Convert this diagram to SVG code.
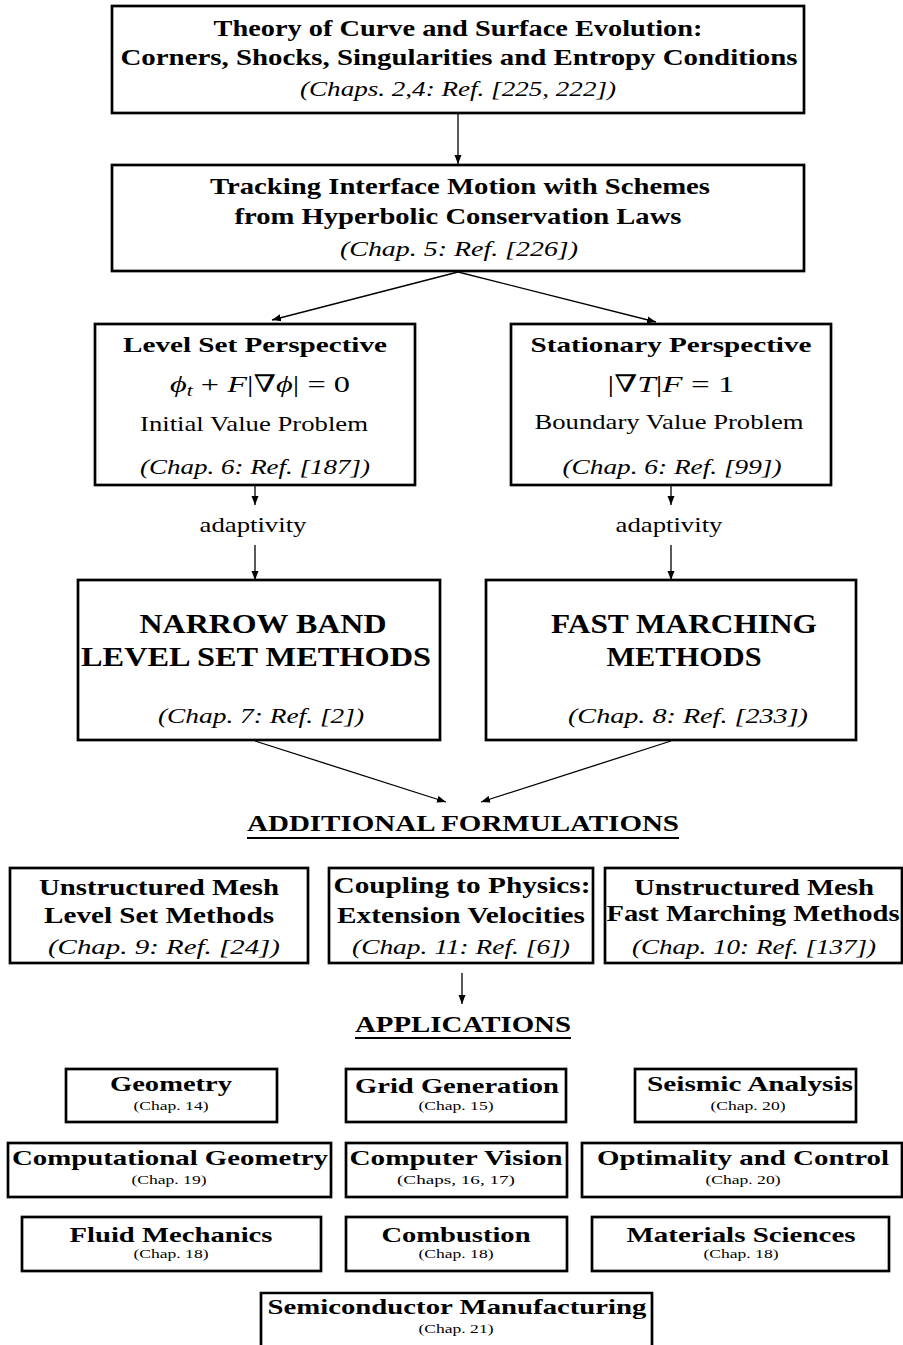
<svg xmlns="http://www.w3.org/2000/svg" width="903" height="1345" viewBox="0 0 903 1345">
<style>
.box{fill:#fff;stroke:#000;stroke-width:2.7}
.ln{stroke:#000;stroke-width:1.3;fill:none}
text{font-family:"Liberation Serif","DejaVu Serif",serif;fill:#000;text-anchor:middle}
.b{font-weight:bold}
.i{font-style:italic}
.f22{font-size:23px}
.f21{font-size:22px}
.f27{font-size:28px}
.f11{font-size:12px}
</style>
<defs>
<marker id="ah" markerWidth="10" markerHeight="8" refX="9" refY="4" orient="auto" markerUnits="userSpaceOnUse">
<path d="M0,0.5 L9,4 L0,7.5 Z" fill="#000"/>
</marker>
</defs>
<rect width="903" height="1345" fill="#fff"/>

<g id="connectors">
<line class="ln" x1="458" y1="114" x2="458" y2="164" marker-end="url(#ah)"/>
<line class="ln" x1="458" y1="272" x2="272" y2="320" marker-end="url(#ah)"/>
<line class="ln" x1="458" y1="272" x2="656" y2="322" marker-end="url(#ah)"/>
<line class="ln" x1="255" y1="486" x2="255" y2="505" marker-end="url(#ah)"/>
<line class="ln" x1="255" y1="545" x2="255" y2="580" marker-end="url(#ah)"/>
<line class="ln" x1="671" y1="486" x2="671" y2="505" marker-end="url(#ah)"/>
<line class="ln" x1="671" y1="545" x2="671" y2="580" marker-end="url(#ah)"/>
<line class="ln" x1="255" y1="741" x2="446" y2="802" marker-end="url(#ah)"/>
<line class="ln" x1="671" y1="741" x2="481" y2="802" marker-end="url(#ah)"/>
<line class="ln" x1="462" y1="973" x2="462" y2="1004" marker-end="url(#ah)"/>
<text x="253" y="532" class="f21" textLength="107" lengthAdjust="spacingAndGlyphs">adaptivity</text>
<text x="669" y="532" class="f21" textLength="107" lengthAdjust="spacingAndGlyphs">adaptivity</text>
</g>

<g id="theory">
<rect class="box" x="112" y="6" width="692" height="107"/>
<text x="458" y="36" class="b f22" textLength="489" lengthAdjust="spacingAndGlyphs">Theory of Curve and Surface Evolution:</text>
<text x="459" y="65" class="b f22" textLength="677" lengthAdjust="spacingAndGlyphs">Corners, Shocks, Singularities and Entropy Conditions</text>
<text x="458" y="96" class="i f21" textLength="316" lengthAdjust="spacingAndGlyphs">(Chaps. 2,4: Ref. [225, 222])</text>
</g>

<g id="tracking">
<rect class="box" x="112" y="165" width="692" height="106"/>
<text x="460" y="194" class="b f22" textLength="500" lengthAdjust="spacingAndGlyphs">Tracking Interface Motion with Schemes</text>
<text x="458" y="224" class="b f22" textLength="447" lengthAdjust="spacingAndGlyphs">from Hyperbolic Conservation Laws</text>
<text x="459" y="256" class="i f21" textLength="238" lengthAdjust="spacingAndGlyphs">(Chap. 5: Ref. [226])</text>
</g>

<g id="levelset">
<rect class="box" x="95" y="324" width="320" height="161"/>
<text x="255" y="352" class="b f21" textLength="264" lengthAdjust="spacingAndGlyphs">Level Set Perspective</text>
<text x="260" y="392" font-size="24" textLength="180" lengthAdjust="spacingAndGlyphs"><tspan class="i">ϕ</tspan><tspan font-size="16" class="i" dy="4">t</tspan><tspan dy="-4"> + </tspan><tspan class="i">F</tspan><tspan>|∇</tspan><tspan class="i">ϕ</tspan><tspan>| = 0</tspan></text>
<text x="254" y="431" class="f21" textLength="228" lengthAdjust="spacingAndGlyphs">Initial Value Problem</text>
<text x="255" y="474" class="i f21" textLength="230" lengthAdjust="spacingAndGlyphs">(Chap. 6: Ref. [187])</text>
</g>

<g id="stationary">
<rect class="box" x="511" y="324" width="320" height="161"/>
<text x="671" y="352" class="b f21" textLength="281" lengthAdjust="spacingAndGlyphs">Stationary Perspective</text>
<text x="671" y="392" font-size="24" textLength="127" lengthAdjust="spacingAndGlyphs"><tspan>|∇</tspan><tspan class="i">T</tspan><tspan>|</tspan><tspan class="i">F</tspan><tspan> = 1</tspan></text>
<text x="669" y="429" class="f21" textLength="269" lengthAdjust="spacingAndGlyphs">Boundary Value Problem</text>
<text x="672" y="474" class="i f21" textLength="219" lengthAdjust="spacingAndGlyphs">(Chap. 6: Ref. [99])</text>
</g>

<g id="narrowband">
<rect class="box" x="78" y="580" width="362" height="160"/>
<text x="263" y="633" class="b f27" textLength="247" lengthAdjust="spacingAndGlyphs">NARROW BAND</text>
<text x="256" y="666" class="b f27" textLength="350" lengthAdjust="spacingAndGlyphs">LEVEL SET METHODS</text>
<text x="261" y="723" class="i f21" textLength="206" lengthAdjust="spacingAndGlyphs">(Chap. 7: Ref. [2])</text>
</g>

<g id="fastmarching">
<rect class="box" x="486" y="580" width="370" height="160"/>
<text x="684" y="633" class="b f27" textLength="266" lengthAdjust="spacingAndGlyphs">FAST MARCHING</text>
<text x="684" y="666" class="b f27" textLength="155" lengthAdjust="spacingAndGlyphs">METHODS</text>
<text x="688" y="723" class="i f21" textLength="240" lengthAdjust="spacingAndGlyphs">(Chap. 8: Ref. [233])</text>
</g>

<g id="additional">
<text x="463" y="831" class="b f22" textLength="432" lengthAdjust="spacingAndGlyphs">ADDITIONAL FORMULATIONS</text>
<line x1="247" y1="838" x2="679" y2="838" stroke="#000" stroke-width="2"/>
</g>

<g id="um-ls">
<rect class="box" x="10" y="868" width="298" height="95"/>
<text x="159" y="895" class="b f22" textLength="240" lengthAdjust="spacingAndGlyphs">Unstructured Mesh</text>
<text x="159" y="923" class="b f22" textLength="230" lengthAdjust="spacingAndGlyphs">Level Set Methods</text>
<text x="164" y="954" class="i f21" textLength="232" lengthAdjust="spacingAndGlyphs">(Chap. 9: Ref. [24])</text>
</g>

<g id="coupling">
<rect class="box" x="329" y="868" width="264" height="95"/>
<text x="462" y="893" class="b f22" textLength="257" lengthAdjust="spacingAndGlyphs">Coupling to Physics:</text>
<text x="461" y="923" class="b f22" textLength="248" lengthAdjust="spacingAndGlyphs">Extension Velocities</text>
<text x="461" y="954" class="i f21" textLength="218" lengthAdjust="spacingAndGlyphs">(Chap. 11: Ref. [6])</text>
</g>

<g id="um-fm">
<rect class="box" x="605" y="868" width="297" height="95"/>
<text x="754" y="895" class="b f22" textLength="240" lengthAdjust="spacingAndGlyphs">Unstructured Mesh</text>
<text x="753" y="921" class="b f22" textLength="293" lengthAdjust="spacingAndGlyphs">Fast Marching Methods</text>
<text x="754" y="954" class="i f21" textLength="244" lengthAdjust="spacingAndGlyphs">(Chap. 10: Ref. [137])</text>
</g>

<g id="applications">
<text x="463" y="1032" class="b f22" textLength="216" lengthAdjust="spacingAndGlyphs">APPLICATIONS</text>
<line x1="355" y1="1038" x2="571" y2="1038" stroke="#000" stroke-width="2"/>
</g>

<g id="geometry">
<rect class="box" x="66" y="1069" width="211" height="53"/>
<text x="171" y="1091" class="b f21" textLength="122" lengthAdjust="spacingAndGlyphs">Geometry</text>
<text x="171" y="1110" class="f11" textLength="75" lengthAdjust="spacingAndGlyphs">(Chap. 14)</text>
</g>
<g id="grid">
<rect class="box" x="346" y="1069" width="220" height="53"/>
<text x="457" y="1093" class="b f21" textLength="204" lengthAdjust="spacingAndGlyphs">Grid Generation</text>
<text x="456" y="1110" class="f11" textLength="75" lengthAdjust="spacingAndGlyphs">(Chap. 15)</text>
</g>
<g id="seismic">
<rect class="box" x="635" y="1069" width="221" height="53"/>
<text x="750" y="1091" class="b f21" textLength="206" lengthAdjust="spacingAndGlyphs">Seismic Analysis</text>
<text x="748" y="1110" class="f11" textLength="75" lengthAdjust="spacingAndGlyphs">(Chap. 20)</text>
</g>

<g id="compgeom">
<rect class="box" x="8" y="1143" width="323" height="54"/>
<text x="170" y="1165" class="b f21" textLength="316" lengthAdjust="spacingAndGlyphs">Computational Geometry</text>
<text x="169" y="1184" class="f11" textLength="75" lengthAdjust="spacingAndGlyphs">(Chap. 19)</text>
</g>
<g id="vision">
<rect class="box" x="346" y="1143" width="221" height="54"/>
<text x="456" y="1165" class="b f21" textLength="213" lengthAdjust="spacingAndGlyphs">Computer Vision</text>
<text x="456" y="1184" class="f11" textLength="118" lengthAdjust="spacingAndGlyphs">(Chaps, 16, 17)</text>
</g>
<g id="optimality">
<rect class="box" x="582" y="1143" width="320" height="54"/>
<text x="743" y="1165" class="b f21" textLength="292" lengthAdjust="spacingAndGlyphs">Optimality and Control</text>
<text x="743" y="1184" class="f11" textLength="75" lengthAdjust="spacingAndGlyphs">(Chap. 20)</text>
</g>

<g id="fluid">
<rect class="box" x="22" y="1217" width="299" height="54"/>
<text x="171" y="1242" class="b f21" textLength="203" lengthAdjust="spacingAndGlyphs">Fluid Mechanics</text>
<text x="171" y="1258" class="f11" textLength="75" lengthAdjust="spacingAndGlyphs">(Chap. 18)</text>
</g>
<g id="combustion">
<rect class="box" x="346" y="1217" width="221" height="54"/>
<text x="456" y="1242" class="b f21" textLength="149" lengthAdjust="spacingAndGlyphs">Combustion</text>
<text x="456" y="1258" class="f11" textLength="75" lengthAdjust="spacingAndGlyphs">(Chap. 18)</text>
</g>
<g id="materials">
<rect class="box" x="592" y="1217" width="297" height="54"/>
<text x="741" y="1242" class="b f21" textLength="229" lengthAdjust="spacingAndGlyphs">Materials Sciences</text>
<text x="741" y="1258" class="f11" textLength="75" lengthAdjust="spacingAndGlyphs">(Chap. 18)</text>
</g>

<g id="semiconductor">
<path class="box" d="M261,1346 L261,1293 L652,1293 L652,1346"/>
<text x="457" y="1314" class="b f21" textLength="379" lengthAdjust="spacingAndGlyphs">Semiconductor Manufacturing</text>
<text x="456" y="1333" class="f11" textLength="75" lengthAdjust="spacingAndGlyphs">(Chap. 21)</text>
</g>
</svg>
